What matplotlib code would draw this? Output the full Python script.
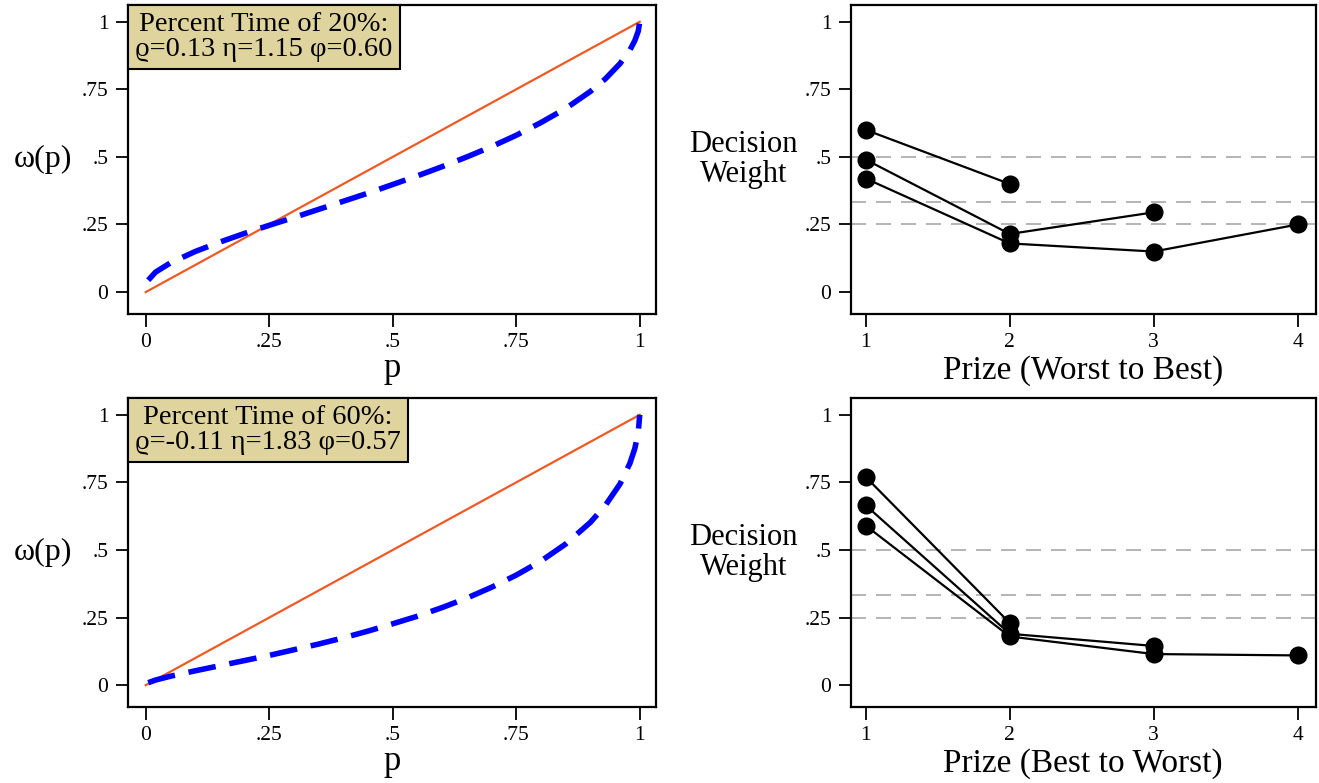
import matplotlib
matplotlib.use("Agg")
import matplotlib.pyplot as plt
from matplotlib.offsetbox import AnchoredText

plt.rcParams['font.family'] = ['Liberation Serif', 'DejaVu Serif']

# probability weighting curves
p_vals = [0.005, 0.02, 0.05, 0.1, 0.15, 0.2, 0.25, 0.3, 0.35, 0.4, 0.45, 0.5,
          0.55, 0.6, 0.65, 0.7, 0.75, 0.8, 0.85, 0.9, 0.93, 0.96, 0.98, 0.99,
          0.997, 1.0]
w_20 = [0.044, 0.074, 0.108, 0.150, 0.185, 0.217, 0.247, 0.276, 0.306, 0.336,
        0.366, 0.398, 0.430, 0.464, 0.500, 0.538, 0.580, 0.627, 0.679, 0.742,
        0.788, 0.845, 0.895, 0.930, 0.965, 1.0]
w_60 = [0.009, 0.019, 0.033, 0.053, 0.072, 0.091, 0.110, 0.131, 0.152, 0.175,
        0.200, 0.227, 0.255, 0.287, 0.322, 0.362, 0.407, 0.459, 0.522, 0.602,
        0.664, 0.744, 0.820, 0.875, 0.935, 1.0]

box_20 = "Percent Time of 20%:\nϱ=0.13 η=1.15 φ=0.60"
box_60 = "Percent Time of 60%:\nϱ=-0.11 η=1.83 φ=0.57"

# decision weights by prize
dw_top = [[0.60, 0.40], [0.49, 0.215, 0.295], [0.42, 0.18, 0.15, 0.25]]
dw_bot = [[0.77, 0.23], [0.665, 0.19, 0.145], [0.59, 0.18, 0.115, 0.11]]
ref_lines = [0.5, 1 / 3, 0.25]

yticks = [0, 0.25, 0.5, 0.75, 1]
ylabels = ["0", ".25", ".5", ".75", "1"]

fig = plt.figure(figsize=(13.19, 7.83), dpi=100)

def style(ax):
    for s in ax.spines.values():
        s.set_linewidth(1.6)
    ax.tick_params(direction='out', length=9, width=1.3, labelsize=15.5, pad=5)
    ax.set_yticks(yticks)
    ax.set_yticklabels(ylabels)
    ax.set_ylim(-0.081, 1.063)

def weight_panel(rect, w, text):
    ax = fig.add_axes(rect)
    style(ax)
    ax.plot([0, 1], [0, 1], color="#EE5A24", lw=1.6)
    ax.plot(p_vals, w, color="#0000FF", lw=4, linestyle=(0, (5, 2.5)))
    ax.set_xlim(-0.036, 1.032)
    ax.set_xticks(yticks)
    ax.set_xticklabels(ylabels)
    ax.set_xlabel("p", fontsize=25, labelpad=0)
    ax.set_ylabel("ω(p)", fontsize=23, rotation=0, labelpad=28, va='center')
    at = AnchoredText(text, loc='upper left', borderpad=0, pad=0.25, frameon=True,
                      prop=dict(size=20.5, ha='center', linespacing=1.0))
    at.patch.set_facecolor("#DFD39E")
    at.patch.set_edgecolor('black')
    at.patch.set_linewidth(1.5)
    at.patch.set_boxstyle('square,pad=0')
    ax.add_artist(at)
    return ax

def prize_panel(rect, dws, xlabel):
    ax = fig.add_axes(rect)
    style(ax)
    for y in ref_lines:
        ax.axhline(y, color="#A8A8A8", lw=1.2, linestyle=(0, (9, 6)), zorder=1)
    for d in dws:
        ax.plot(range(1, len(d) + 1), d, color='black', lw=1.6, marker='o',
                markersize=12, zorder=3)
    ax.set_xlim(0.896, 4.125)
    ax.set_xticks([1, 2, 3, 4])
    ax.set_xlabel(xlabel, fontsize=24, labelpad=2)
    ax.set_ylabel("Decision\nWeight", fontsize=22, rotation=0, labelpad=44,
                  va='center', linespacing=1.05)
    return ax

weight_panel([0.097, 0.599, 0.400, 0.395], w_20, box_20)
weight_panel([0.097, 0.097, 0.400, 0.395], w_60, box_60)
prize_panel([0.645, 0.599, 0.3525, 0.395], dw_top, "Prize (Worst to Best)")
prize_panel([0.645, 0.097, 0.3525, 0.395], dw_bot, "Prize (Best to Worst)")

fig.savefig("out.png", dpi=100)
